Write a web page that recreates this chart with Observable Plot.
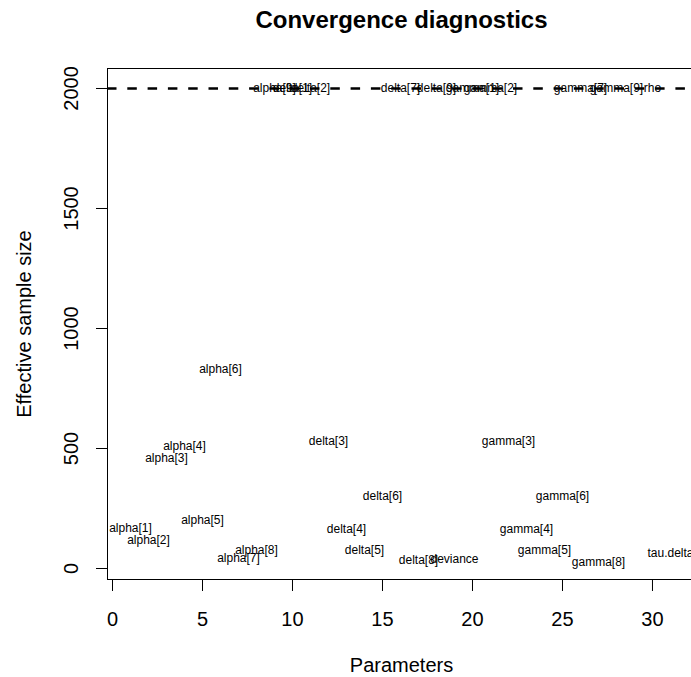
<!DOCTYPE html>
<html>
<head>
<meta charset="utf-8">
<script src="https://cdn.jsdelivr.net/npm/d3@7"></script>
<script src="https://cdn.jsdelivr.net/npm/@observablehq/plot@0.6"></script>
<style>
  html, body { margin: 0; padding: 0; background: white; overflow: hidden; }
  #chart svg { max-width: none !important; width: 700px !important; height: 677px !important; }
</style>
</head>
<body>
<div id="chart"></div>
<script>
// Parameter names, with their index positions on the x axis (position 29 has no drawn label)
const paramNames = [
  "alpha[1]", "alpha[2]", "alpha[3]", "alpha[4]", "alpha[5]", "alpha[6]", "alpha[7]", "alpha[8]", "alpha[9]",
  "delta[1]", "delta[2]", "delta[3]", "delta[4]", "delta[5]", "delta[6]", "delta[7]", "delta[8]", "delta[9]",
  "deviance",
  "gamma[1]", "gamma[2]", "gamma[3]", "gamma[4]", "gamma[5]", "gamma[6]", "gamma[7]", "gamma[8]", "gamma[9]",
  "rho", "tau.delta"
];
const paramIndex = [
  1, 2, 3, 4, 5, 6, 7, 8, 9,
  10, 11, 12, 13, 14, 15, 16, 17, 18,
  19,
  20, 21, 22, 23, 24, 25, 26, 27, 28,
  30, 31
];
// Effective sample sizes
const essValues = [
  168, 119, 461, 511, 203, 832, 42, 78, 2000,
  2000, 2000, 532, 162, 75, 300, 2000, 36, 2000,
  39,
  2000, 2000, 531, 162, 75, 300, 2000, 26, 2000,
  2000, 64
];
const nSims = 2000;
const xTicks = [0, 5, 10, 15, 20, 25, 30];
const yTicks = [0, 500, 1000, 1500, 2000];
const titleText = "Convergence diagnostics";
const xLabel = "Parameters";
const yLabel = "Effective sample size";

const data = paramNames.map((name, i) => ({index: paramIndex[i], name, ess: essValues[i]}));

const chart = Plot.plot({
  width: 700,
  height: 677,
  marginLeft: 107,
  marginRight: 5,
  marginTop: 68,
  marginBottom: 98,
  style: {fontFamily: "'Liberation Sans', Arial, Helvetica, sans-serif", color: "black", background: "white", overflow: "visible", maxWidth: "none"},
  x: {domain: [-0.278, 32.39]},
  y: {domain: [-45.8, 2083.3]},
  marks: [
    Plot.frame({stroke: "black", strokeWidth: 1}),
    Plot.axisX({ticks: xTicks, tickSize: 12, tickPadding: 20, fontSize: 20, label: null, stroke: "black", fill: "black"}),
    Plot.axisY({ticks: yTicks, tickSize: 11, label: null, stroke: "black", fill: "none"}),
    Plot.text(yTicks, {y: d => d, text: d => String(d), frameAnchor: "left", dx: -36, rotate: -90, textAnchor: "middle", lineAnchor: "middle", fontSize: 20, fill: "black"}),
    Plot.text(data, {x: "index", y: "ess", text: "name", fontSize: 12, fill: "black"}),
    Plot.ruleY([nSims], {stroke: "black", strokeWidth: 2.7, strokeDasharray: "9.5,10.8"}),
    Plot.text([titleText], {frameAnchor: "top", dy: -48, lineAnchor: "middle", textAnchor: "middle", fontSize: 24, fontWeight: "bold", fill: "black"}),
    Plot.text([xLabel], {frameAnchor: "bottom", dy: 86, lineAnchor: "middle", textAnchor: "middle", fontSize: 20, fill: "black"}),
    Plot.text([yLabel], {frameAnchor: "left", dx: -83, rotate: -90, textAnchor: "middle", lineAnchor: "middle", fontSize: 20, fill: "black"})
  ]
});
document.getElementById("chart").appendChild(chart);
</script>
</body>
</html>
